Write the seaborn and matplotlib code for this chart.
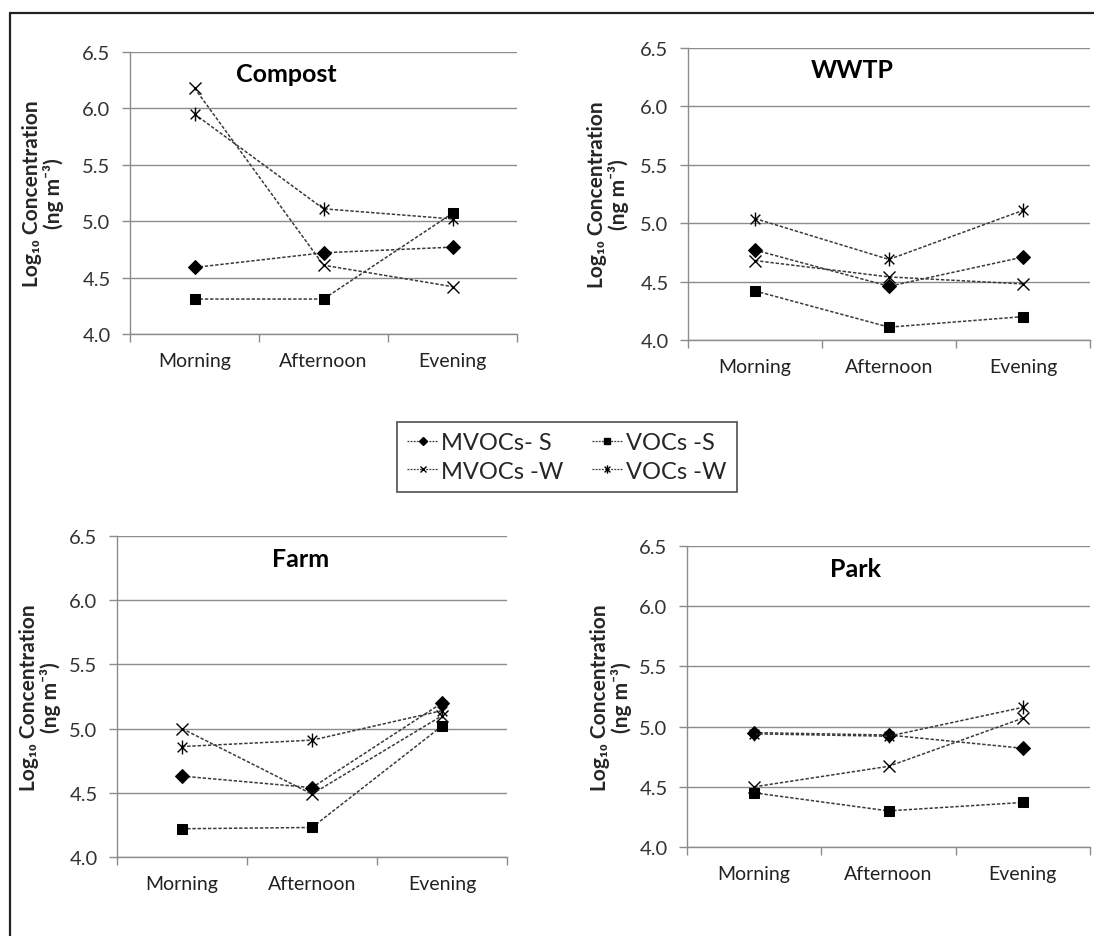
import matplotlib
matplotlib.use("Agg")
import matplotlib.pyplot as plt
from matplotlib.lines import Line2D
from matplotlib.path import Path
import seaborn as sns
import pandas as pd

# time of day categories
times = ["Morning", "Afternoon", "Evening"]
series_names = ["MVOCs- S", "VOCs -S", "MVOCs -W", "VOCs -W"]

# Log10 concentrations
compost_mvocs_s = [4.59, 4.72, 4.77]
compost_vocs_s = [4.31, 4.31, 5.07]
compost_mvocs_w = [6.18, 4.61, 4.42]
compost_vocs_w = [5.95, 5.11, 5.02]

wwtp_mvocs_s = [4.77, 4.46, 4.71]
wwtp_vocs_s = [4.42, 4.11, 4.20]
wwtp_mvocs_w = [4.68, 4.54, 4.48]
wwtp_vocs_w = [5.04, 4.69, 5.11]

farm_mvocs_s = [4.63, 4.54, 5.20]
farm_vocs_s = [4.22, 4.23, 5.02]
farm_mvocs_w = [5.00, 4.49, 5.10]
farm_vocs_w = [4.86, 4.91, 5.14]

park_mvocs_s = [4.95, 4.93, 4.82]
park_vocs_s = [4.45, 4.30, 4.37]
park_mvocs_w = [4.50, 4.67, 5.07]
park_vocs_w = [4.94, 4.92, 5.16]

yticks = [4.0, 4.5, 5.0, 5.5, 6.0, 6.5]

sites = {
    "Compost": [compost_mvocs_s, compost_vocs_s, compost_mvocs_w, compost_vocs_w],
    "WWTP": [wwtp_mvocs_s, wwtp_vocs_s, wwtp_mvocs_w, wwtp_vocs_w],
    "Farm": [farm_mvocs_s, farm_vocs_s, farm_mvocs_w, farm_vocs_w],
    "Park": [park_mvocs_s, park_vocs_s, park_mvocs_w, park_vocs_w],
}

# excel style asterisk: x plus vertical bar
star = Path([(0, -1), (0, 1), (-0.7, -0.7), (0.7, 0.7), (-0.7, 0.7), (0.7, -0.7)],
            [Path.MOVETO, Path.LINETO, Path.MOVETO, Path.LINETO, Path.MOVETO, Path.LINETO])

styles = [
    dict(marker="D", markersize=7.5),
    dict(marker="s", markersize=7),
    dict(marker="x", markersize=8, markeredgewidth=1),
    dict(marker=star, markersize=10, markeredgewidth=1),
]

sns.set_theme(style="white")
plt.rcParams["font.family"] = ["Lato", "DejaVu Sans"]

W, H = 1094, 937
fig = plt.figure(figsize=(W / 100, H / 100), dpi=100)

# pixel boxes: left, right, top, bottom, title x (px), ylabel anchor (px)
boxes = {
    "Compost": (130, 517, 53, 335, 286, 64),
    "WWTP": (688, 1090, 49, 341, 852, 629),
    "Farm": (117, 507, 537, 858, 301, 61),
    "Park": (687, 1090, 547, 848, 856, 632),
}

grid_c = "#8c8c8c"
line_c = "#3a3a3a"

for site, vals in sites.items():
    l, r, t, b, tx, lx = boxes[site]
    ax = fig.add_axes([l / W, 1 - b / H, (r - l) / W, (b - t) / H])
    for name, v, st in zip(series_names, vals, styles):
        df = pd.DataFrame({"Time": times, "Value": v})
        sns.lineplot(data=df, x="Time", y="Value", ax=ax, sort=False,
                     color=line_c, linewidth=1.1, linestyle=(0, (2.2, 1.2)),
                     markerfacecolor="black", markeredgecolor="black", **st)
    ax.set_xlim(-0.5, 2.5)
    ax.set_ylim(4.0, 6.5)
    ax.set_yticks(yticks)
    ax.set_yticklabels([f"{y:.1f}" for y in yticks])
    ax.set_xticks(range(3))
    ax.set_xticklabels(times)
    ax.set_xticks([-0.5, 0.5, 1.5, 2.5], minor=True)
    ax.tick_params(axis="x", which="major", length=0, pad=13, labelsize=14, labelcolor="#222222")
    ax.tick_params(axis="x", which="minor", length=6, width=1, color=grid_c, bottom=True)
    ax.tick_params(axis="y", length=6, width=1, color=grid_c, left=True, pad=8,
                   labelsize=14.5, labelcolor="#333333")
    ax.grid(axis="y", color=grid_c, linewidth=1)
    ax.set_axisbelow(True)
    for s in ["top", "right"]:
        ax.spines[s].set_visible(False)
    for s in ["left", "bottom"]:
        ax.spines[s].set_color(grid_c)
        ax.spines[s].set_linewidth(1)
    ax.set_xlabel("")
    ax.set_ylabel("Log\u2081\u2080 Concentration\n(ng m\u207b\u00b3)", fontsize=15,
                  fontweight="bold", linespacing=1.05)
    ax.yaxis.set_label_coords((lx - l) / (r - l), 0.5)
    ax.text((tx - l) / (r - l), 0.965, site, transform=ax.transAxes, ha="center", va="top",
            fontsize=18, fontweight="bold", color="black")

# shared legend, rows: S series then W series
handles = []
for name, st in zip(series_names, styles):
    st2 = dict(st)
    st2["markersize"] = st["markersize"] * 0.6
    handles.append(Line2D([], [], color=line_c, linewidth=0.9, linestyle=(0, (1.5, 1)),
                          markerfacecolor="black", markeredgecolor="black", label=name, **st2))
order = [0, 2, 1, 3]
leg = fig.legend(handles=[handles[i] for i in order], ncol=2, loc="center",
                 bbox_to_anchor=(567 / W, 1 - 458 / H),
                 frameon=True, fancybox=False, fontsize=17, handlelength=1.3, handletextpad=0.15,
                 columnspacing=1.2, labelspacing=0.3, borderpad=0.45)
leg.get_frame().set_edgecolor("#222222")
leg.get_frame().set_linewidth(1.2)

# outer frame (top and left edges visible)
fig.add_artist(Line2D([10 / W, 1.0], [1 - 14 / H, 1 - 14 / H], color="#222222", linewidth=1.6,
                      transform=fig.transFigure))
fig.add_artist(Line2D([10 / W, 10 / W], [1 - 14 / H, 0.0], color="#222222", linewidth=1.6,
                      transform=fig.transFigure))

fig.savefig("out.png", dpi=100, facecolor="white")
